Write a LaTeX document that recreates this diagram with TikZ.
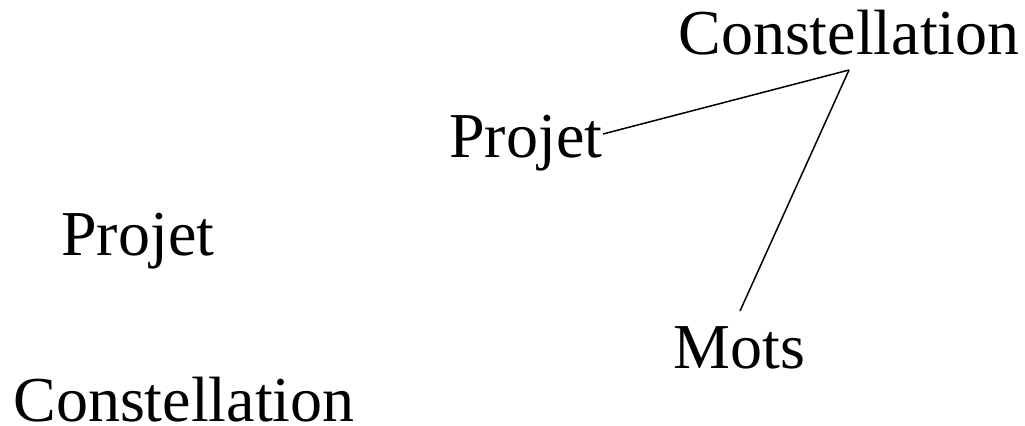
\documentclass[tikz,border=0pt]{standalone}
\usepackage{fontspec}
\setmainfont{Liberation Serif}
\usepackage{tikz}
\tikzset{word/.style={draw=none, fill=none, inner sep=0mm, anchor=base west, font=\fontsize{32}{38}\selectfont}}
\tikzset{empty/.style={draw=none, fill=none, minimum size=0mm, inner sep=0mm}}

\begin{document}
\begin{tikzpicture}[x=0.5pt, y=-0.5pt]
    \useasboundingbox (0,0) rectangle (1025,425);

    \node (ctop) [word] at (678, 54) {Constellation};
    \node (pmid) [word] at (449, 157) {Projet};
    \node (pleft) [word] at (61, 255) {Projet};
    \node (mots) [word] at (673, 368) {Mots};
    \node (cbot) [word] at (13, 421) {Constellation};

    \coordinate (pmidend) at (603, 134);
    \coordinate (ctopend) at (849, 70);
    \coordinate (motsend) at (740, 311);

    \draw [line width=0.75pt] (pmidend) -- (ctopend);
    \draw [line width=0.75pt] (ctopend) -- (motsend);
\end{tikzpicture}
\end{document}
